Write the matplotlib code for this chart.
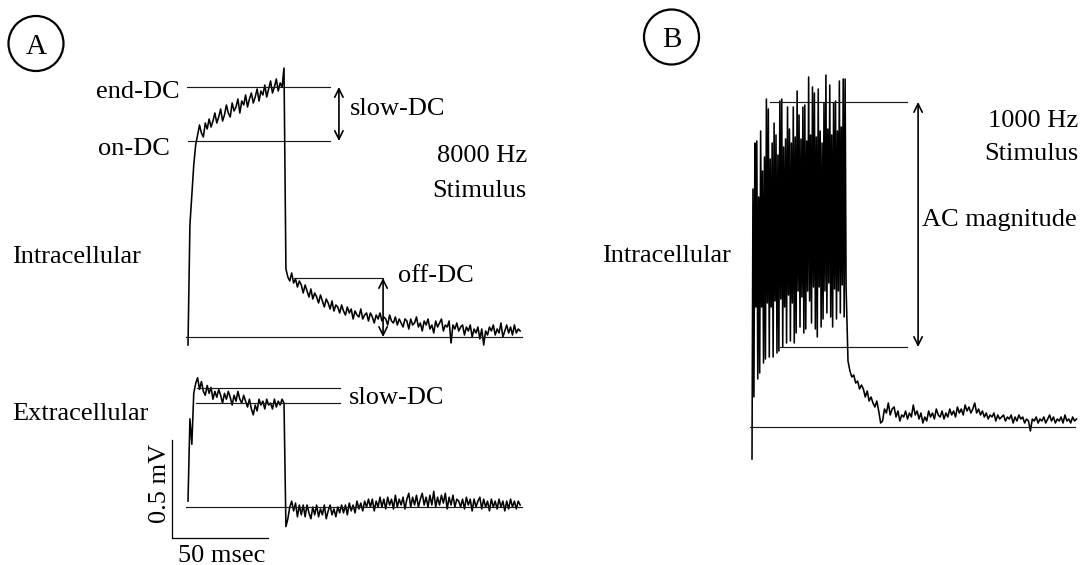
import numpy as np
import matplotlib
matplotlib.use("Agg")
import matplotlib.pyplot as plt
from matplotlib.patches import Circle

plt.rcParams["font.family"] = ["Liberation Serif", "DejaVu Serif"]

# ---- data ----
# panel A, intracellular response to 8000 Hz tone, 1 ms steps, arbitrary mV
a_intra = [
    -0.4, 5.6, 7.1, 8.6, 9.6,
    10.1, 10.6, 10.2, 10.0, 10.7, 10.4, 10.9, 10.5, 10.8, 11.2,
    10.7, 11.0, 11.4, 10.8, 11.1, 11.6, 11.2, 11.0, 11.7, 11.3,
    11.5, 11.9, 11.2, 11.8, 11.6, 12.1, 11.5, 11.9, 12.2, 11.7,
    12.0, 12.4, 11.8, 12.3, 12.1, 12.6, 12.0, 12.4, 12.8, 12.2,
    12.5, 12.9, 12.3, 12.7, 12.5,
    13.45, 3.4, 3.0, 2.8, 3.2, 2.7, 2.9, 2.5, 2.8, 2.6,
    2.2, 2.6, 2.3, 2.0, 2.4, 1.9, 2.2, 2.0, 1.7, 2.1,
    1.8, 1.5, 1.9, 1.7, 1.4, 1.8, 1.3, 1.6, 1.5, 1.2,
    1.6, 1.3, 1.1, 1.5, 1.2, 1.4, 0.9, 1.3, 1.1, 1.0,
    1.4, 0.9, 1.1, 1.2, 0.8, 1.2, 1.0, 0.7, 1.1, 0.9,
    1.2, 0.8, 1.0, 0.9, 0.6, 1.1, 0.8, 0.7, 1.0, 0.6,
    0.9, 0.7, 0.5, 0.9, 0.8, 0.4, 0.9, 0.6, 0.7, 1.0,
    0.5, 0.7, 0.3, 0.8, 0.6, 0.9, 0.4, 0.6, 0.2, 0.8,
    0.5, 0.7, 0.9, 0.3, 0.6, 0.5, 0.8, -0.3, 0.6, 0.4,
    0.7, 0.3, 0.5, 0.6, 0.1, 0.5, 0.3, 0.6, 0.0, 0.4,
    0.2, 0.5, -0.1, 0.4, -0.4, 0.3, 0.1, 0.5, 0.3, 0.6,
    0.1, 0.4, 0.2, 0.7, 0.0, 0.3, 0.6, 0.2, 0.5, 0.1,
    0.6, 0.2, 0.4, 0.3,
]

# panel A, extracellular response, 1 ms steps, mV
a_extra = [
    0.03, 0.45, 0.32, 0.58, 0.63, 0.66,
    0.60, 0.64, 0.59, 0.57, 0.62, 0.58, 0.61, 0.55, 0.59, 0.56,
    0.60, 0.57, 0.53, 0.58, 0.55, 0.59, 0.56, 0.52, 0.57, 0.54,
    0.59, 0.55, 0.53, 0.57, 0.54, 0.51, 0.55, 0.50, 0.47, 0.52,
    0.49, 0.55, 0.52, 0.54, 0.50, 0.55, 0.52, 0.53, 0.50, 0.55,
    0.51, 0.54, 0.52, 0.55,
    0.53, -0.10, -0.06, 0.00, 0.03, -0.02, 0.02, -0.05, 0.01, -0.04,
    0.01, -0.05, 0.01, -0.03, -0.06, 0.00, -0.04, 0.01, -0.05, -0.01,
    -0.04, 0.01, -0.06, -0.02, 0.01, -0.04, -0.01, -0.05, 0.00, -0.03,
    0.01, -0.03, 0.01, -0.04, 0.02, -0.02, 0.01, -0.03, 0.03, -0.01,
    0.02, -0.02, 0.03, 0.00, 0.04, 0.00, 0.04, -0.02, 0.03, 0.00,
    0.05, 0.00, 0.04, -0.01, 0.05, 0.01, 0.04, -0.01, 0.06, 0.00,
    0.04, 0.01, 0.05, -0.01, 0.04, 0.07, 0.00, 0.05, 0.01, 0.06,
    0.00, 0.04, 0.07, 0.01, 0.05, 0.00, 0.06, 0.01, 0.08, 0.00,
    0.05, 0.01, 0.06, 0.02, 0.07, -0.01, 0.05, 0.01, 0.06, 0.00,
    0.04, 0.03, 0.00, 0.04, -0.01, 0.05, 0.01, 0.04, -0.02, 0.04,
    0.00, 0.03, 0.05, -0.01, 0.04, 0.00, 0.03, -0.02, 0.04, 0.00,
    0.03, -0.01, 0.04, 0.00, 0.03, -0.02, 0.03, -0.01, 0.04, 0.00,
    0.03, -0.01, 0.03, 0.01,
]

# panel B, 1000 Hz tone: during the tone (0.5 ms steps, t = 0 .. 49 ms)
b_on = [
    -1.6, 11.9, 1.5, 14.2, 6.0, 14.3, 2.4, 11.5, 2.7, 14.8,
    6.0, 12.8, 3.2, 13.5, 3.4, 16.4, 6.2, 15.9, 3.5, 13.4,
    6.0, 14.2, 3.5, 15.2, 6.3, 14.6, 3.7, 13.6, 3.8, 16.3,
    6.4, 16.4, 4.0, 14.0, 6.0, 14.4, 4.2, 16.0, 6.6, 14.9,
    4.3, 14.2, 6.2, 16.0, 4.2, 14.5, 4.7, 16.8, 6.8, 15.6,
    5.0, 14.4, 6.5, 16.0, 4.7, 16.1, 4.9, 14.3, 6.8, 17.5,
    6.3, 14.6, 5.2, 17.0, 7.0, 16.7, 4.9, 14.5, 4.5, 16.9,
    7.0, 14.8, 5.0, 14.2, 5.4, 16.2, 6.8, 17.6, 5.7, 14.9,
    7.2, 17.1, 5.5, 14.6, 5.0, 16.2, 6.9, 16.3, 5.4, 14.8,
    6.8, 17.3, 5.7, 15.0, 7.1, 17.4, 5.5, 17.4, 7.0,
]
# after the tone (1 ms steps, t = 50 .. 169 ms)
b_off = [
    3.3, 2.8, 2.5, 2.6, 2.2, 2.3, 1.9, 2.1, 1.9, 1.5,
    1.8, 1.3, 1.5, 1.2, 1.0, 1.3, 0.8, 0.2, 0.3, 0.9,
    0.7, 1.2, 0.6, 0.9, 1.0, 0.5, 0.8, 0.3, 0.6, 0.5,
    0.8, 0.4, 0.7, 0.5, 1.1, 0.6, 0.8, 0.4, 0.7, 0.2,
    0.5, 0.3, 0.8, 0.5, 0.7, 0.4, 0.9, 0.6, 0.5, 0.8,
    0.4, 0.7, 0.5, 0.9, 0.6, 0.8, 0.5, 1.0, 0.7, 0.9,
    0.6, 1.1, 0.8, 1.0, 0.7, 0.9, 1.2, 0.7, 0.9, 0.6,
    0.8, 0.5, 0.7, 0.4, 0.6, 0.5, 0.7, 0.3, 0.6, 0.4,
    0.5, 0.6, 0.3, 0.5, 0.4, 0.6, 0.2, 0.5, 0.3, 0.6,
    0.4, 0.5, 0.2, 0.4, 0.3, -0.2, 0.4, 0.3, 0.5, 0.2,
    0.4, 0.3, 0.5, 0.2, 0.4, 0.6, 0.3, 0.5, 0.2, 0.4,
    0.3, 0.5, 0.2, 0.6, 0.3, 0.4, 0.2, 0.5, 0.3, 0.4,
]

# measured levels
on_dc, end_dc, off_dc = 9.8, 12.5, 2.95
ex_hi, ex_lo = 0.607, 0.53
ac_top, ac_bottom = 16.25, 4.0
bar_mv, bar_ms = 0.5, 50

t_a = np.arange(len(a_intra)) * 1.0
t_e = np.arange(len(a_extra)) * 1.0
t_b = np.concatenate([np.arange(len(b_on)) * 0.5, 50 + np.arange(len(b_off)) * 1.0])
v_b = np.array(b_on + b_off)

W, H = 1083, 565
fig = plt.figure(figsize=(W / 100, H / 100), dpi=100)

bg = fig.add_axes([0, 0, 1, 1])
bg.set_xlim(0, W)
bg.set_ylim(H, 0)
bg.axis("off")


def trace_axes(x0, y0, sx, sy, xlim, ylim):
    # x0, y0: pixel spot of data origin; sx, sy: pixels per data unit
    left = x0 + sx * xlim[0]
    right = x0 + sx * xlim[1]
    top = y0 - sy * ylim[1]
    bottom = y0 - sy * ylim[0]
    ax = fig.add_axes([left / W, 1 - bottom / H, (right - left) / W, (bottom - top) / H])
    ax.set_xlim(xlim)
    ax.set_ylim(ylim)
    ax.axis("off")
    return ax


def arrow(ax, t, v1, v2):
    ax.annotate("", xy=(t, v1), xytext=(t, v2),
                arrowprops=dict(arrowstyle="<->", color="black", lw=1.2,
                                shrinkA=0, shrinkB=0, mutation_scale=15))


TR = dict(color="black", lw=1.15)
REF = dict(color="#1a1a1a", lw=0.85)

# panel A intracellular
ax1 = trace_axes(188, 337, 1.92, 20, (-10, 180), (-1.5, 14.5))
ax1.plot(t_a, a_intra, **TR)
ax1.plot([-1, 174], [0, 0], **REF)
ax1.plot([-0.5, 74], [end_dc, end_dc], **REF)
ax1.plot([0, 74], [on_dc, on_dc], **REF)
ax1.plot([55, 101.6], [off_dc, off_dc], **REF)
arrow(ax1, 78.6, end_dc, on_dc)
arrow(ax1, 101.6, off_dc, 0)

# panel A extracellular
ax2 = trace_axes(188, 507, 1.92, 196, (-15, 180), (-0.3, 0.75))
ax2.plot(t_e, a_extra, **TR)
ax2.plot([-1, 174], [0, 0], **REF)
ax2.plot([4.7, 79], [ex_hi, ex_hi], **REF)
ax2.plot([4.2, 79], [ex_lo, ex_lo], **REF)
sb_t, sb_v = -8.3, -0.158
ax2.plot([sb_t, sb_t, sb_t + bar_ms], [sb_v + bar_mv, sb_v, sb_v], color="black", lw=0.9,
         clip_on=False)

# panel B
ax3 = trace_axes(752, 427, 1.92, 20, (-5, 175), (-2.5, 18.5))
ax3.plot(t_b, v_b, color="black", lw=1.15)
ax3.plot([-1, 168], [0, 0], **REF)
ax3.plot([9.4, 80.7], [ac_top, ac_top], **REF)
ax3.plot([14.6, 80.7], [ac_bottom, ac_bottom], **REF)
arrow(ax3, 86.5, ac_top, ac_bottom)

# labels
FS = 19
labels = [
    ("end-DC", 180, 98, "right"),
    ("on-DC", 170, 155, "right"),
    ("slow-DC", 350, 115, "left"),
    ("8000 Hz", 527, 162, "right"),
    ("Stimulus", 527, 197, "right"),
    ("Intracellular", 12, 263, "left"),
    ("off-DC", 398, 282, "left"),
    ("Extracellular", 12, 420, "left"),
    ("slow-DC", 349, 404, "left"),
    ("50 msec", 222, 562, "center"),
    ("1000 Hz", 1078, 127, "right"),
    ("Stimulus", 1078, 160, "right"),
    ("AC magnitude", 922, 226, "left"),
    ("Intracellular", 602, 262, "left"),
]
for s, x, y, ha in labels:
    bg.text(x, y, s, fontsize=FS, ha=ha, va="baseline")
bg.text(160, 483, "0.5 mV", fontsize=FS, ha="center", va="center", rotation=90)

for letter, cx, cy in [("A", 36, 43.5), ("B", 671.5, 37)]:
    bg.add_patch(Circle((cx, cy), 27.5, fill=False, lw=1.6, color="black"))
    bg.text(cx, cy + 10, letter, fontsize=21, ha="center", va="baseline")

fig.savefig("out.png", dpi=100, facecolor="white")
